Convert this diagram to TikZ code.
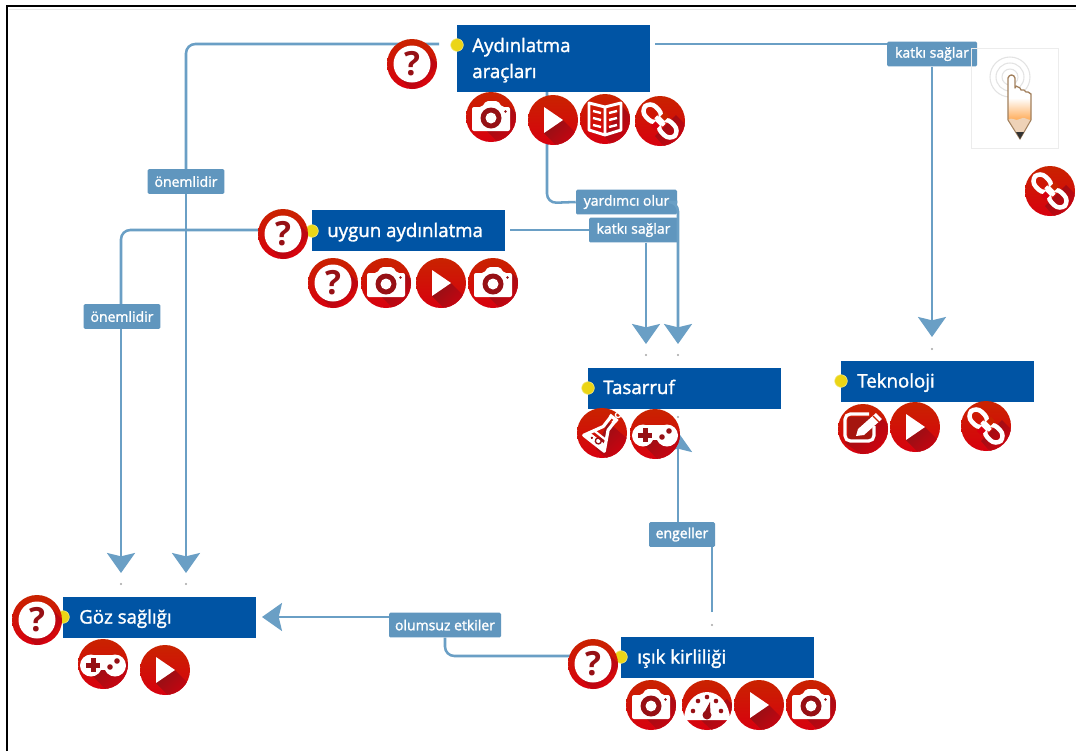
\documentclass[tikz,border=0pt]{standalone}
\usepackage{fontspec}
\setmainfont{Open Sans}
\newfontfamily\semi{Open Sans}[RawFeature={embolden=1.6}]
\usetikzlibrary{arrows.meta}
\definecolor{lnk}{HTML}{6A9FC5}
\definecolor{lab}{HTML}{6096BE}
\definecolor{blu}{HTML}{0054A4}
\definecolor{yel}{HTML}{EBD516}
\definecolor{rtop}{HTML}{C92300}
\definecolor{rbot}{HTML}{D8000F}
\definecolor{rdk}{HTML}{961015}
\tikzset{x=0.75pt,y=-0.75pt,
 topic/.style={fill=blu,draw=none,minimum width=144.75pt,inner sep=0pt,anchor=north west,minimum height=30.75pt},
 ttext/.style={text=white,font=\semi\fontsize{14pt}{19pt}\selectfont,anchor=base west,inner sep=0pt},
 tag/.style={fill=lab,rounded corners=1pt,text=white,font=\semi\fontsize{10.5pt}{11pt}\selectfont,inner sep=0pt,minimum height=18.5pt},
 conn/.style={draw=lnk,line width=1.9pt,rounded corners=7pt},
 tipped/.style={conn,-{Stealth[length=15pt,width=21pt,inset=2.5pt,color=lnk]}},
 ydot/.style={circle,fill=yel,inner sep=0pt,minimum size=9.5pt,draw=yel!50,line width=.4pt},
 gdot/.style={circle,fill=gray!70,inner sep=0pt,minimum size=1.8pt},
 iconbase/.style={circle,inner sep=0pt,minimum size=37.5pt,draw=none},
 shd/.style={shading=axis,top color=rdk,bottom color=rbot,shading angle=45},
}
\newcommand{\disk}[3]{%
 \node[iconbase] (#1) at (#2,#3) {};
 \begin{scope}\clip (#2,#3) circle (25);
  \shade[top color=rtop,bottom color=rbot] (#2-25,#3-25) rectangle (#2+25,#3+25);
 \end{scope}}
\newcommand{\iconq}[3]{\disk{#1}{#2}{#3}%
 \begin{scope}\clip (#2,#3) circle (25);
  \shade[shd] (#2+13,#3-13) -- (#2+27,#3+1) -- (#2+1,#3+27) -- (#2-13,#3+13) -- cycle;
 \end{scope}
 \fill[white] (#2,#3) circle (18.5);
 \node[text=rdk,font=\bfseries\fontsize{25pt}{25pt}\selectfont,inner sep=0pt] (#1t) at (#2,#3) {?};}
\newcommand{\iconcam}[3]{\disk{#1}{#2}{#3}%
 \begin{scope}\clip (#2,#3) circle (25);
  \shade[shd] (#2+19,#3-10) -- (#2+32,#3+3) -- (#2+14,#3+32) -- (#2-4,#3+14) -- cycle;
 \end{scope}
 \begin{scope}[shift={(#2,#3)}]
  \fill[white,rounded corners=1.5] (-19,-10) -- (-9,-10) -- (-5,-16) -- (7,-16) -- (11,-10) -- (19,-10) -- (19,14) -- (-19,14) -- cycle;
  \fill[rdk] (0,1) circle (10.5);
  \fill[white] (0,1) circle (5.5);
  \fill[rdk] (14.5,-5.5) circle (1.4);
 \end{scope}}
\newcommand{\iconplay}[3]{\disk{#1}{#2}{#3}%
 \begin{scope}\clip (#2,#3) circle (25);
  \shade[shd] (#2-9,#3+13) -- (#2+10,#3) -- (#2+30,#3+20) -- (#2+11,#3+33) -- cycle;
 \end{scope}
 \fill[white] (#2-9,#3-13) -- (#2+10,#3) -- (#2-9,#3+13) -- cycle;}
\newcommand{\iconlink}[3]{\disk{#1}{#2}{#3}%
 \begin{scope}\clip (#2,#3) circle (25);
  \shade[shd] (#2+16,#3-6) -- (#2+30,#3+8) -- (#2+8,#3+30) -- (#2-5,#3+15) -- cycle;
 \end{scope}
 \begin{scope}[shift={(#2,#3)},rotate=-45]
  \draw[white,line width=3.4pt,rounded corners=6] (-21,-7) rectangle (-1,7);
  \draw[white,line width=3.4pt,rounded corners=6] (21,-7) rectangle (1,7);
  \fill[rtop] (-3,-10) rectangle (3,-3.5);
  \fill[rbot] (-3,3.5) rectangle (3,10);
  \draw[white,line width=3pt] (-6,0) -- (6,0);
 \end{scope}}
\newcommand{\iconbook}[3]{\disk{#1}{#2}{#3}%
 \begin{scope}\clip (#2,#3) circle (25);
  \shade[shd] (#2+17,#3-13) -- (#2+30,#3+2) -- (#2+12,#3+30) -- (#2-1,#3+17) -- cycle;
 \end{scope}
 \begin{scope}[shift={(#2,#3)}]
  \draw[white,line width=2.2pt,line join=round] (0,-12) -- (-16,-16) -- (-16,11) -- (0,16) -- (16,11) -- (16,-16) -- cycle (0,-12) -- (0,16);
  \foreach \yy in {-6,1,8}{
   \draw[white,line width=1.8pt] (-12,\yy-2) -- (-4,\yy);
   \draw[white,line width=1.8pt] (12,\yy-2) -- (4,\yy);}
 \end{scope}}
\newcommand{\icongame}[3]{\disk{#1}{#2}{#3}%
 \begin{scope}\clip (#2,#3) circle (25);
  \shade[shd] (#2+19,#3-7) -- (#2+31,#3+6) -- (#2+8,#3+31) -- (#2-12,#3+10) -- cycle;
 \end{scope}
 \begin{scope}[shift={(#2,#3)}]
  \fill[white] (-12,1.5) circle (11) (12,1.5) circle (11);
  \fill[white] (-12,-9.5) rectangle (12,6);
  \fill[rdk] (-17,-1.5) rectangle (-3,3.5);
  \fill[rdk] (-12.5,-6) rectangle (-7.5,8);
  \fill[rdk] (14,-3) circle (2.8);
  \fill[rdk] (7,3) circle (2.8);
 \end{scope}}
\newcommand{\iconflask}[3]{\disk{#1}{#2}{#3}%
 \begin{scope}\clip (#2,#3) circle (25);
  \shade[shd] (#2+6,#3-11) -- (#2+28,#3+8) -- (#2+10,#3+30) -- (#2-6,#3+16) -- cycle;
 \end{scope}
 \begin{scope}[shift={(#2,#3)},rotate=-38]
  \draw[white,line width=2.4pt,line join=round] (-5,-19) -- (5,-19) (-3,-19) -- (-3,-6) -- (-13,13) -- (13,13) -- (3,-6) -- (3,-19);
  \draw[white,line width=1.6pt] (-7,3) -- (7,3);
  \fill[white] (-9,7) -- (9,7) -- (12,13) -- (-12,13) -- cycle;
  \draw[rdk,line width=1pt] (2,8.5) circle (3);
  \fill[rdk] (-5,10) circle (1.3);
 \end{scope}
 \draw[white,line width=1pt] (#2+16,#3-18) circle (2.6);
 \draw[white,line width=1pt] (#2+12,#3-11) circle (1.6);}
\newcommand{\icongauge}[3]{\disk{#1}{#2}{#3}%
 \begin{scope}\clip (#2,#3) circle (25);
  \shade[shd] (#2+20,#3-6) -- (#2+32,#3+6) -- (#2+12,#3+32) -- (#2-6,#3+15) -- cycle;
 \end{scope}
 \begin{scope}[shift={(#2,#3)}]
  \fill[white] (-23,15) arc (180:360:23 and 28) -- cycle;
  \fill[rdk] (-14,6) circle (2.3) (-9,-4) circle (2.3) (0,-8) circle (2.3) (9,-4) circle (2.3) (14,6) circle (2.3);
  \fill[rdk] (0,10) circle (4.5) (-3.5,9) -- (3,-3) -- (3.5,10) -- cycle;
 \end{scope}}
\newcommand{\iconedit}[3]{\disk{#1}{#2}{#3}%
 \begin{scope}\clip (#2,#3) circle (25);
  \shade[shd] (#2+16,#3-14) -- (#2+31,#3+1) -- (#2+5,#3+30) -- (#2-18,#3+14) -- cycle;
  \fill[rdk!70!rtop] (#2-15,#3-12) rectangle (#2+10,#3+10);
 \end{scope}
 \begin{scope}[shift={(#2,#3)}]
  \draw[white,line width=2.4pt,rounded corners=4] (6,-15) -- (-18,-15) -- (-18,12) -- (11,12) -- (11,-3);
  \fill[white] (-7,7) -- (-5,0) -- (13,-16) -- (19,-10) -- (1,6) -- cycle;
  \draw[rtop,line width=.9pt] (10,-13) -- (16,-7);
 \end{scope}}
\begin{document}
\begin{tikzpicture}
\useasboundingbox (0,0) rectangle (1076,751);
\fill[white] (0,0) rectangle (1076,751);
% frame
\coordinate (fa) at (7,751); \coordinate (fb) at (7,6); \coordinate (fc) at (1076,6);
\draw[black,line width=1.7pt] (fa) -- (fb) -- (fc);
\draw[gray!18,line width=1.2pt] (9,9.5) -- (1076,9.5);
% topics
\node[topic,minimum height=50.25pt] (ayd) at (457,25) {};
\node[ttext] (t1a) at (472,52) {Aydınlatma};
\node[ttext] (t1b) at (472,78) {araçları};
\node[topic] (uyg) at (312,210) {};
\node[ttext] (t2) at (327,237) {uygun aydınlatma};
\node[topic] (tas) at (588,368) {};
\node[ttext] (t3) at (603,394) {Tasarruf};
\node[topic] (tek) at (841,361) {};
\node[ttext] (t4) at (857,387.5) {Teknoloji};
\node[topic] (goz) at (63,597) {};
\node[ttext] (t5) at (79,623.5) {Göz sağlığı};
\node[topic] (isik) at (621,637) {};
\node[ttext] (t6) at (637,663.5) {ışık kirliliği};
% anchor points
\coordinate (a1) at (439,44);
\coordinate (a2) at (655,44);
\coordinate (a3) at (547,92);
\coordinate (u1) at (510,230);
\coordinate (u2) at (262,230);
\coordinate (tg1) at (121,573);
\coordinate (tg2) at (186,573);
\coordinate (tt1) at (646,344);
\coordinate (tt2) at (678,344);
\coordinate (tt3) at (678,432);
\coordinate (tk) at (932,337);
\coordinate (tz) at (262,617);
\coordinate (i1) at (712,612);
\coordinate (i2) at (570,656);
% labels
\node[tag,minimum width=57.5pt] (l1) at (186,181.5) {önemlidir};
\node[tag,minimum width=57.5pt] (l2) at (122,316.5) {önemlidir};
\node[tag,minimum width=67.5pt] (l3) at (932,54) {katkı sağlar};
\node[tag,minimum width=75.75pt] (l4) at (626.5,202) {yardımcı olur};
\node[tag,minimum width=66.75pt] (l5) at (633.5,230) {katkı sağlar};
\node[tag,minimum width=49.5pt] (l6) at (682,534.5) {engeller};
\node[tag,minimum width=84pt] (l7) at (445,625) {olumsuz etkiler};
% connectors
\draw[conn] (a1) -- (186,44) -- (l1.north);
\draw[tipped] (l1.south) -- (tg2);
\draw[conn] (u2) -- (121,230) -- (l2.north -| 121,0);
\draw[tipped] (l2.south -| 121,0) -- (tg1);
\draw[conn] (a2) -- (a2 -| l3.west);
\draw[tipped] (l3.south) -- (tk);
\draw[conn] (a3) -- (547,203) -- (l4.west);
\draw[tipped] (l4.east) -- (678,202) -- (tt2);
\draw[conn] (u1) -- (l5.west);
\draw[tipped] (l5.south -| 646,0) -- (tt1);
\draw[conn] (i1) -- (712,547) -- (l6.south -| 712,0);
\draw[tipped] (l6.north -| 678,0) -- (tt3);
\draw[conn] (i2) -- (445,656) -- (l7.south);
\draw[tipped] (l7.west |- 0,617) -- (tz);
% dots
\foreach \n/\x/\y in {g1/121/584,g2/186/584,g3/646/355,g4/678/355,g5/932/349,g6/678/417,g7/712/625}
 \node[gdot] (\n) at (\x,\y) {};
\foreach \n/\x/\y in {y1/457/45,y2/312/231,y3/588/388,y4/841/381,y5/63/617,y6/621/657}
 \node[ydot] (\n) at (\x,\y) {};
% icons
\iconq{q1}{412}{64}
\iconcam{c1}{491}{117}
\iconplay{p1}{553}{120}
\iconbook{b1}{605}{119}
\iconlink{k1}{660}{121}
\iconlink{k2}{1050}{191}
\iconq{q2}{283}{234}
\iconq{q3}{333}{283}
\iconcam{c2}{386}{283}
\iconplay{p2}{441}{283}
\iconcam{c3}{493}{283}
\iconflask{f1}{602}{433}
\icongame{h1}{655}{434}
\iconedit{e1}{863}{429}
\iconplay{p3}{915}{427}
\iconlink{k3}{986}{426}
\iconq{q4}{37}{620}
\icongame{h2}{103}{664}
\iconplay{p4}{165}{670}
\iconq{q5}{593}{664}
\iconcam{c4}{651}{705}
\icongauge{d1}{707}{705}
\iconplay{p5}{759}{705}
\iconcam{c5}{811}{705}
% pencil hand image
\node[draw=gray!15,line width=1.1pt,inner sep=0pt,minimum width=65pt,minimum height=75pt,anchor=north west] (img) at (971,48) {};
\foreach \r in {20,14,8}
 \draw[gray!22,line width=.8pt] (1010,77) circle (\r);
\begin{scope}
 \clip (1008,120) -- (1008,78) .. controls (1009,74) and (1014,74) .. (1015,78) -- (1015,88) -- (1020,88) -- (1024,90) -- (1028,92) -- (1031,94) -- (1031,120) -- cycle;
 \fill[white] (1000,70) rectangle (1040,98);
 \shade[top color=white,bottom color=orange!65] (1000,98) rectangle (1040,120);
\end{scope}
\draw[brown!55!gray,line width=1pt,line join=round] (1008,120) -- (1008,78) .. controls (1009,74) and (1014,74) .. (1015,78) -- (1015,88) -- (1016,86) -- (1020,88) -- (1021,90) -- (1024,90) -- (1026,92) -- (1028,92) -- (1031,94) -- (1031,120);
\fill[orange!25!brown!35] (1008,120) .. controls (1012,116) and (1015,122) .. (1020,119) .. controls (1024,116) and (1027,120) .. (1031,120) -- (1020,137) -- cycle;
\draw[brown!55!gray,line width=.8pt] (1008,120) -- (1020,139) -- (1031,120);
\fill[black!80] (1016,132) -- (1024,132) -- (1020,139) -- cycle;
\end{tikzpicture}
\end{document}
